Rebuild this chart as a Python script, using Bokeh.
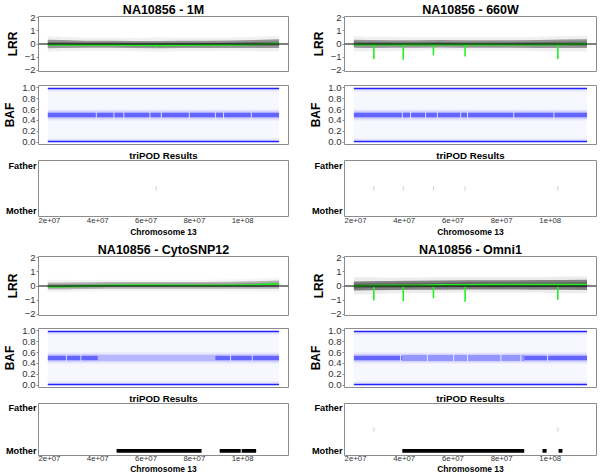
from bokeh.plotting import figure
from bokeh.layouts import column, row
from bokeh.models import Range1d, FixedTicker, Span, NumeralTickFormatter
from bokeh.embed import file_html
from bokeh.resources import INLINE

# ---------------- data ----------------
SAMPLE = "NA10856"
PLATFORMS = ["1M", "660W", "CytoSNP12", "Omni1"]
CHROM_LABEL = "Chromosome 13"
PANEL3_TITLE = "triPOD Results"

X_TICKS = [20000000, 40000000, 60000000, 80000000, 100000000]
X_TICK_LABELS = ["2e+07", "4e+07", "6e+07", "8e+07", "1e+08"]
LRR_TICKS = [-2, -1, 0, 1, 2]
BAF_TICKS = [0.0, 0.2, 0.4, 0.6, 0.8, 1.0]
PARENT_LEVELS = [0, 1]
PARENT_LABELS = ["Mother", "Father"]

CHR_START_MB = 19.3
CHR_END_MB = 115.1

# knots (Mb) at which the LRR cloud / smoothed line were read
LRR_KNOT_MB = [19.3, 25, 35, 45, 55, 65, 75, 85, 95, 105, 115.1]

LRR_MID_1M = [0.0, 0.0, -0.02, -0.02, -0.04, -0.05, -0.03, -0.03, -0.02, 0.0, 0.03]
LRR_CORE_1M = [0.32, 0.30, 0.27, 0.27, 0.27, 0.28, 0.27, 0.27, 0.28, 0.30, 0.33]
LRR_HALO_1M = [0.60, 0.55, 0.50, 0.50, 0.50, 0.55, 0.50, 0.50, 0.50, 0.55, 0.60]
LRR_SMOOTH_1M = [-0.05, -0.06, -0.07, -0.07, -0.09, -0.11, -0.08, -0.07, -0.06, -0.03, 0.05]
LRR_DIP_MB_1M = [64.2]
LRR_DIP_VAL_1M = [-0.25]

LRR_MID_660W = [0.02, 0.0, 0.0, 0.0, 0.02, 0.0, 0.0, 0.0, 0.0, 0.02, 0.03]
LRR_CORE_660W = [0.30, 0.30, 0.28, 0.28, 0.28, 0.28, 0.28, 0.28, 0.30, 0.32, 0.33]
LRR_HALO_660W = [0.60, 0.55, 0.55, 0.50, 0.50, 0.50, 0.50, 0.50, 0.55, 0.60, 0.60]
LRR_SMOOTH_660W = [-0.04, -0.05, -0.04, -0.02, -0.05, -0.04, -0.04, -0.05, -0.04, -0.02, 0.02]
LRR_DIP_MB_660W = [27.5, 39.6, 52.0, 65.0, 103.1]
LRR_DIP_VAL_660W = [-1.15, -1.20, -0.86, -0.96, -1.15]

LRR_MID_CYTO = [0.0, 0.0, 0.02, 0.04, 0.05, 0.05, 0.05, 0.05, 0.05, 0.07, 0.10]
LRR_CORE_CYTO = [0.25, 0.25, 0.24, 0.24, 0.24, 0.24, 0.24, 0.24, 0.25, 0.27, 0.30]
LRR_HALO_CYTO = [0.45, 0.45, 0.40, 0.40, 0.40, 0.40, 0.40, 0.40, 0.42, 0.45, 0.50]
LRR_SMOOTH_CYTO = [-0.04, -0.04, 0.0, 0.05, 0.06, 0.06, 0.05, 0.05, 0.05, 0.08, 0.17]
LRR_DIP_MB_CYTO = []
LRR_DIP_VAL_CYTO = []

LRR_MID_OMNI = [0.0, 0.02, 0.04, 0.05, 0.07, 0.08, 0.08, 0.08, 0.08, 0.08, 0.08]
LRR_CORE_OMNI = [0.32, 0.32, 0.32, 0.32, 0.33, 0.33, 0.33, 0.33, 0.34, 0.35, 0.36]
LRR_HALO_OMNI = [0.60, 0.60, 0.55, 0.55, 0.55, 0.55, 0.55, 0.55, 0.55, 0.60, 0.60]
LRR_SMOOTH_OMNI = [0.0, 0.02, 0.04, 0.05, 0.07, 0.08, 0.09, 0.10, 0.10, 0.10, 0.10]
LRR_DIP_MB_OMNI = [27.5, 39.6, 52.0, 65.0, 103.1]
LRR_DIP_VAL_OMNI = [-1.04, -1.09, -0.88, -1.12, -0.97]

# gaps (Mb) in the heterozygous BAF band around 0.5
BAF_GAP_MB_1M = [39.4, 46.7, 50.8, 61.6, 66.3, 77.9, 88.7, 92.1, 103.6]
BAF_GAP_MB_660W = [39.2, 42.6, 48.8, 53.6, 63.2, 66.0, 85.0, 101.5]
BAF_GAP_MB_CYTO = [27.0, 33.0, 95.0, 104.0]
BAF_GAP_MB_OMNI = [38.5, 49.5, 60.3, 66.0, 79.7, 87.9, 98.9]
# stretch (Mb) where the 0.5 band is sparse
BAF_SPARSE_MB_1M = []
BAF_SPARSE_MB_660W = []
BAF_SPARSE_MB_CYTO = [40.0, 88.7]
BAF_SPARSE_MB_OMNI = [39.2, 89.3]

# triPOD calls: Mother-level regions (Mb) and faint mid-level marks (Mb)
MOTHER_START_MB_1M, MOTHER_END_MB_1M = [], []
MOTHER_START_MB_660W, MOTHER_END_MB_660W = [], []
MOTHER_START_MB_CYTO = [47.8, 90.5, 99.6]
MOTHER_END_MB_CYTO = [83.0, 99.2, 105.6]
MOTHER_START_MB_OMNI = [39.2, 96.8, 103.4]
MOTHER_END_MB_OMNI = [89.3, 98.5, 105.0]
MARK_MB_1M = [64.2]
MARK_MB_660W = [27.5, 39.6, 52.0, 65.0, 103.1]
MARK_MB_CYTO = []
MARK_MB_OMNI = [27.5, 103.1]

# ---------------- styling ----------------
FONT = "Liberation Sans"
GREY = "#3a3a3a"
BLUE = "#0000ff"
GREEN = "#22ee22"
FRAME = "#8c8c8c"
TICKCOL = "#333333"
MB = 1e6
X_LO, X_HI = 15.45e6, 119.0e6


def mb(v):
    return [x * MB for x in v]


def base_fig(width, height, bl, br, bt, bb, yr, xaxis=False):
    p = figure(width=width, height=height, output_backend="svg", toolbar_location=None,
               tools="", x_range=Range1d(X_LO, X_HI), y_range=Range1d(*yr),
               x_axis_location="below" if xaxis else None,
               min_border_left=bl, min_border_right=br, min_border_top=bt, min_border_bottom=bb)
    p.xgrid.visible = False
    p.ygrid.visible = False
    p.outline_line_color = FRAME
    p.outline_line_width = 1
    p.border_fill_color = "white"
    return p


def style_y(ax, ticks, label=None, size="9.5px", bold=False, color=TICKCOL, tick_out=2):
    ax.ticker = FixedTicker(ticks=ticks)
    ax.minor_tick_line_color = None
    ax.axis_line_color = None
    ax.major_tick_line_color = FRAME
    ax.major_tick_out = tick_out
    ax.major_tick_in = 0
    ax.major_label_standoff = 1 if label else 2
    ax.major_label_text_font = FONT
    ax.major_label_text_font_size = size
    ax.major_label_text_color = color
    if bold:
        ax.major_label_text_font_style = "bold"
    if label:
        ax.axis_label = label
        ax.axis_label_text_font = FONT
        ax.axis_label_text_font_size = "12px"
        ax.axis_label_text_font_style = "bold"
        ax.axis_label_text_color = "black"
        ax.axis_label_standoff = 2


def set_title(p, text, size):
    p.title.text = text
    p.title.align = "center"
    p.title.text_font = FONT
    p.title.text_font_size = size
    p.title.text_font_style = "bold"
    p.title.text_color = "black"
    p.title.standoff = 0
    p.title.offset = 0


def lrr_fig(name, mid, core, halo, smooth, dip_mb, dip_val, density, w, bl, br, h, bt, bb):
    p = base_fig(w, h, bl, br, bt, bb, (-2.1, 2.1))
    set_title(p, SAMPLE + " - " + name, "12.5px")
    style_y(p.yaxis[0], LRR_TICKS, "LRR")
    x = mb(LRR_KNOT_MB)
    p.varea(x=x, y1=[m - h_ for m, h_ in zip(mid, halo)], y2=[m + h_ for m, h_ in zip(mid, halo)],
            fill_color=GREY, fill_alpha=0.08 * density)
    p.varea(x=x, y1=[m - c for m, c in zip(mid, core)], y2=[m + c for m, c in zip(mid, core)],
            fill_color=GREY, fill_alpha=0.5 * density)
    p.varea(x=x, y1=[m - 0.5 * c for m, c in zip(mid, core)], y2=[m + 0.5 * c for m, c in zip(mid, core)],
            fill_color=GREY, fill_alpha=0.4 * density)
    p.add_layout(Span(location=0, dimension="width", line_color="black", line_width=1))
    p.line(x=x, y=smooth, line_color=GREEN, line_width=1.8)
    if dip_mb:
        p.segment(x0=mb(dip_mb), y0=[0] * len(dip_mb), x1=mb(dip_mb), y1=dip_val,
                  line_color=GREEN, line_width=1.6)
    return p


def mid_segments(gaps, half=0.2):
    edges = [CHR_START_MB]
    for g in gaps:
        edges += [g - half, g + half]
    edges.append(CHR_END_MB)
    return edges[0::2], edges[1::2]


def split_sparse(starts, ends, sparse):
    dense, thin = [], []
    for s, e in zip(starts, ends):
        if not sparse:
            dense.append((s, e))
            continue
        a, b = sparse
        if e <= a or s >= b:
            dense.append((s, e))
            continue
        if s < a:
            dense.append((s, a))
        thin.append((max(s, a), min(e, b)))
        if e > b:
            dense.append((b, e))
    return dense, thin


def baf_fig(gaps, sparse, thin_alpha, w, bl, br, h, bt, bb):
    p = base_fig(w, h, bl, br, bt, bb, (-0.042, 1.042))
    style_y(p.yaxis[0], BAF_TICKS, "BAF")
    p.yaxis[0].formatter = NumeralTickFormatter(format="0.0")
    L, R = [CHR_START_MB * MB], [CHR_END_MB * MB]
    p.quad(left=L, right=R, bottom=[0.0], top=[1.0], fill_color=BLUE, fill_alpha=0.03, line_color=None)
    p.quad(left=L * 2, right=R * 2, bottom=[0.0, 0.93], top=[0.07, 1.0], fill_color=BLUE,
           fill_alpha=0.07, line_color=None)
    p.quad(left=L * 2, right=R * 2, bottom=[0.0, 0.975], top=[0.025, 1.0], fill_color=BLUE,
           fill_alpha=0.85, line_color=None)
    p.quad(left=L, right=R, bottom=[0.40], top=[0.60], fill_color=BLUE, fill_alpha=0.07, line_color=None)
    starts, ends = mid_segments(gaps)
    dense, thin = split_sparse(starts, ends, sparse)
    ds, de = [d[0] for d in dense], [d[1] for d in dense]
    p.quad(left=mb(ds), right=mb(de), bottom=[0.43] * len(ds), top=[0.57] * len(ds),
           fill_color=BLUE, fill_alpha=0.12, line_color=None)
    p.quad(left=mb(ds), right=mb(de), bottom=[0.46] * len(ds), top=[0.54] * len(ds),
           fill_color=BLUE, fill_alpha=0.5, line_color=None)
    if thin:
        ts, te = [t[0] for t in thin], [t[1] for t in thin]
        p.quad(left=mb(ts), right=mb(te), bottom=[0.44] * len(ts), top=[0.56] * len(ts),
               fill_color=BLUE, fill_alpha=thin_alpha, line_color=None)
    return p


def tripod_fig(m_start, m_end, marks, w, bl, br, h, bt, bb, standoff):
    p = base_fig(w, h, bl, br, bt, bb, (-0.11, 1.11), xaxis=True)
    set_title(p, PANEL3_TITLE, "9.7px")
    style_y(p.yaxis[0], PARENT_LEVELS, None, size="9.2px", bold=True, color="black", tick_out=0)
    p.yaxis[0].major_label_overrides = {lv: lb for lv, lb in zip(PARENT_LEVELS, PARENT_LABELS)}
    xa = p.xaxis[0]
    xa.ticker = FixedTicker(ticks=X_TICKS)
    xa.major_label_overrides = {t: l for t, l in zip(X_TICKS, X_TICK_LABELS)}
    xa.minor_tick_line_color = None
    xa.major_tick_line_color = None
    xa.axis_line_color = None
    xa.major_tick_out = 0
    xa.major_tick_in = 0
    xa.major_label_standoff = standoff
    xa.major_label_text_font = FONT
    xa.major_label_text_font_size = "7.8px"
    xa.major_label_text_color = TICKCOL
    xa.axis_label = CHROM_LABEL
    xa.axis_label_text_font = FONT
    xa.axis_label_text_font_size = "8.5px"
    xa.axis_label_text_font_style = "bold"
    xa.axis_label_text_color = "black"
    xa.axis_label_standoff = standoff
    if marks:
        p.segment(x0=mb(marks), y0=[0.45] * len(marks), x1=mb(marks), y1=[0.55] * len(marks),
                  line_color="#cfcfcf", line_width=1)
    if m_start:
        p.quad(left=mb(m_start), right=mb(m_end), bottom=[-0.045] * len(m_start),
               top=[0.045] * len(m_start), fill_color="black", line_color=None)
    return p


# column geometry: (width, border-left, border-right)
LEFT = (300, 33, 12)
RIGHT = (300, 44, 4)

# (height, border-top, border-bottom) for LRR / BAF / triPOD panels
top_rows = [(78, 14, 7), (69, 7, 3), (93, 10, 24)]
bot_rows = [(79, 14, 4), (71, 9, 3), (86, 10, 17)]


def cell(name, lrr, baf, tri, geo, rows, standoff):
    w, bl, br = geo
    (h1, t1, b1), (h2, t2, b2), (h3, t3, b3) = rows
    a = lrr_fig(name, *lrr, w, bl, br, h1, t1, b1)
    b = baf_fig(*baf, w, bl, br, h2, t2, b2)
    c = tripod_fig(*tri, w, bl, br, h3, t3, b3, standoff)
    return column(a, b, c, spacing=0)


c1 = cell(PLATFORMS[0],
          (LRR_MID_1M, LRR_CORE_1M, LRR_HALO_1M, LRR_SMOOTH_1M, LRR_DIP_MB_1M, LRR_DIP_VAL_1M, 1.0),
          (BAF_GAP_MB_1M, BAF_SPARSE_MB_1M, 0.2),
          (MOTHER_START_MB_1M, MOTHER_END_MB_1M, MARK_MB_1M), LEFT, top_rows, 1)
c2 = cell(PLATFORMS[1],
          (LRR_MID_660W, LRR_CORE_660W, LRR_HALO_660W, LRR_SMOOTH_660W, LRR_DIP_MB_660W, LRR_DIP_VAL_660W, 1.0),
          (BAF_GAP_MB_660W, BAF_SPARSE_MB_660W, 0.2),
          (MOTHER_START_MB_660W, MOTHER_END_MB_660W, MARK_MB_660W), RIGHT, top_rows, 1)
c3 = cell(PLATFORMS[2],
          (LRR_MID_CYTO, LRR_CORE_CYTO, LRR_HALO_CYTO, LRR_SMOOTH_CYTO, LRR_DIP_MB_CYTO, LRR_DIP_VAL_CYTO, 0.7),
          (BAF_GAP_MB_CYTO, BAF_SPARSE_MB_CYTO, 0.2),
          (MOTHER_START_MB_CYTO, MOTHER_END_MB_CYTO, MARK_MB_CYTO), LEFT, bot_rows, 0)
c4 = cell(PLATFORMS[3],
          (LRR_MID_OMNI, LRR_CORE_OMNI, LRR_HALO_OMNI, LRR_SMOOTH_OMNI, LRR_DIP_MB_OMNI, LRR_DIP_VAL_OMNI, 1.2),
          (BAF_GAP_MB_OMNI, BAF_SPARSE_MB_OMNI, 0.35),
          (MOTHER_START_MB_OMNI, MOTHER_END_MB_OMNI, MARK_MB_OMNI), RIGHT, bot_rows, 0)

layout = column(row(c1, c2, spacing=0), row(c3, c4, spacing=0), spacing=0)

open("out.html", "w").write(file_html(layout, INLINE))
